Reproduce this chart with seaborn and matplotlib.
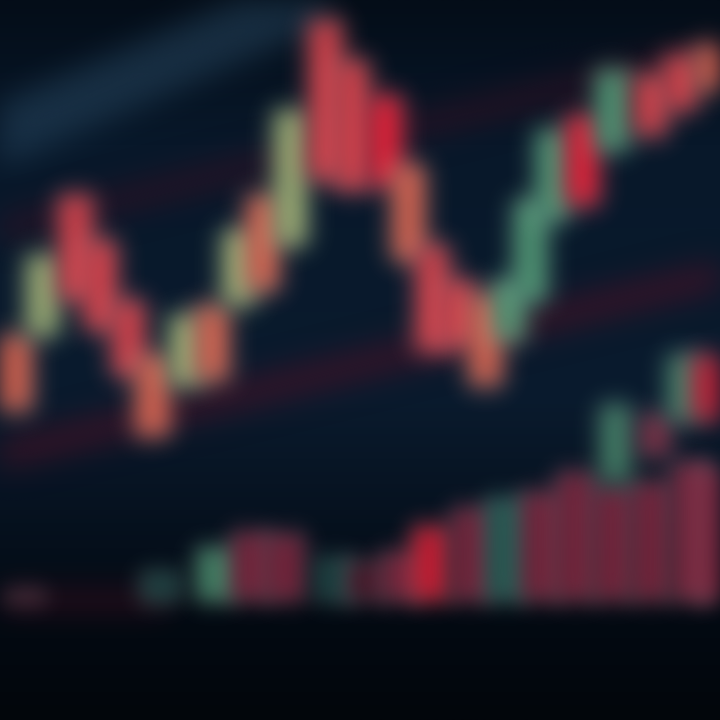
import numpy as np
import matplotlib
matplotlib.use('Agg')
import matplotlib.pyplot as plt
import seaborn as sns
from matplotlib.colors import LinearSegmentedColormap

# candles: position, open, close (price units)
candle_t = [15, 42, 75, 100, 128, 152, 185, 212, 238, 262, 290, 325, 352,
            385, 408, 432, 458, 485, 508, 530, 552, 582, 612, 650, 680, 712]
candle_open = [385, 385, 525, 480, 420, 365, 335, 415, 415, 525, 475, 700, 660,
               625, 555, 475, 440, 425, 380, 420, 500, 605, 570, 645, 665, 675]
candle_close = [310, 465, 420, 390, 345, 285, 405, 340, 490, 430, 610, 540, 530,
                535, 460, 370, 375, 335, 440, 520, 590, 515, 650, 585, 610, 630]
candle_tone = ['warm', 'olive', 'red', 'red', 'red', 'warm', 'olive', 'warm', 'olive', 'warm',
               'olive', 'red', 'red', 'bright', 'warm', 'red', 'red', 'warm', 'teal', 'teal',
               'teal', 'bright', 'teal', 'red', 'red', 'warm']

# foreground candles in the lower right
low_t = [615, 655, 682, 706]
low_open = [240, 305, 300, 365]
low_close = [315, 265, 365, 300]
low_tone = ['teal', 'dim', 'teal', 'bright']

# volume bars
vol_t = [25, 160, 215, 250, 285, 335, 365, 400, 430, 470, 505, 540, 575, 612, 650, 690, 715]
vol = [8, 28, 52, 68, 66, 42, 38, 48, 74, 92, 102, 108, 128, 112, 118, 138, 132]
vol_tone = ['dark', 'dgreen', 'teal', 'vol', 'vol', 'dgreen', 'dark', 'vol', 'bright', 'vol',
            'vteal', 'vol', 'vol', 'vol', 'vol', 'vol', 'vol']

# trend lines
trend_x = [0, 720]
trend_low = [265, 445]
trend_high = [490, 670]
glow_x = [0, 300]
glow_y = [585, 715]

palette = {'warm': '#e0654f', 'red': '#de3f48', 'bright': '#f01c34', 'olive': '#9fb274',
           'teal': '#4f9a74', 'dim': '#a03048', 'vol': '#8c2640', 'dark': '#521428',
           'dgreen': '#1a4a46', 'vteal': '#2a6a5e'}


def make_blur(sigma):
    r = int(3 * sigma)
    k = np.exp(-np.arange(-r, r + 1) ** 2 / (2.0 * sigma ** 2))
    k /= k.sum()

    def blur(im, dpi):
        im = im.astype(float)
        pm = im.copy()
        pm[..., :3] *= pm[..., 3:4]
        a = np.pad(pm, ((2 * r, 2 * r), (2 * r, 2 * r), (0, 0)))
        h = im.shape[0] + 2 * r
        w = im.shape[1] + 2 * r
        t = np.zeros((h, a.shape[1], 4))
        for i, kv in enumerate(k):
            t += kv * a[i:i + h]
        out = np.zeros((h, w, 4))
        for i, kv in enumerate(k):
            out += kv * t[:, i:i + w]
        al = out[..., 3:4]
        out[..., :3] = np.where(al > 1e-4, out[..., :3] / np.maximum(al, 1e-4), 0)
        return np.clip(out, 0, 1), -r, -r
    return blur


sns.set_theme(style='dark')
fig = plt.figure(figsize=(7.2, 7.2), dpi=100)
ax = fig.add_axes([0, 0, 1, 1])
ax.set_xlim(0, 720)
ax.set_ylim(0, 720)
ax.axis('off')

# background
bg = LinearSegmentedColormap.from_list('bg', [(0, '#02060b'), (0.15, '#030a13'),
                                              (0.45, '#0a1b2e'), (0.8, '#08182a'), (1, '#040d18')])
ax.imshow(np.linspace(0, 1, 256).reshape(-1, 1), cmap=bg, extent=[0, 720, 0, 720],
          aspect='auto', origin='lower', zorder=0)

# trend lines and glow
sns.lineplot(x=glow_x, y=glow_y, color='#24425a', lw=42, alpha=0.6, ax=ax, zorder=1)
sns.lineplot(x=trend_x, y=trend_low, color='#4a1226', lw=20, alpha=0.7, ax=ax, zorder=1)
sns.lineplot(x=trend_x, y=trend_high, color='#3a1022', lw=18, alpha=0.6, ax=ax, zorder=1)
sns.lineplot(x=[0, 160], y=[120, 120], color='#3e1020', lw=14, alpha=0.7, ax=ax, zorder=1)
for ln in ax.lines:
    ln.set_agg_filter(make_blur(15))

# volume on its own axis
ax2 = fig.add_axes([0, 0, 1, 1], sharex=ax)
ax2.set_ylim(-120, 600)
ax2.axis('off')
ax2.patch.set_alpha(0)
bars = ax2.bar(vol_t, vol, width=36, color=[palette[c] for c in vol_tone], alpha=0.8)
for b in bars:
    b.set_agg_filter(make_blur(11))

# candle bodies
blur = make_blur(12)
lo = np.minimum(candle_open, candle_close)
hi = np.maximum(candle_open, candle_close)
bodies = ax2.bar(candle_t, hi - lo, bottom=lo - 120, width=32,
                 color=[palette[c] for c in candle_tone], alpha=0.95)
for b in bodies:
    b.set_agg_filter(blur)

lo2 = np.minimum(low_open, low_close)
hi2 = np.maximum(low_open, low_close)
low_bodies = ax2.bar(low_t, hi2 - lo2, bottom=lo2 - 120, width=28,
                     color=[palette[c] for c in low_tone], alpha=0.8)
for b in low_bodies:
    b.set_agg_filter(blur)

fig.savefig('out.png', dpi=100)
